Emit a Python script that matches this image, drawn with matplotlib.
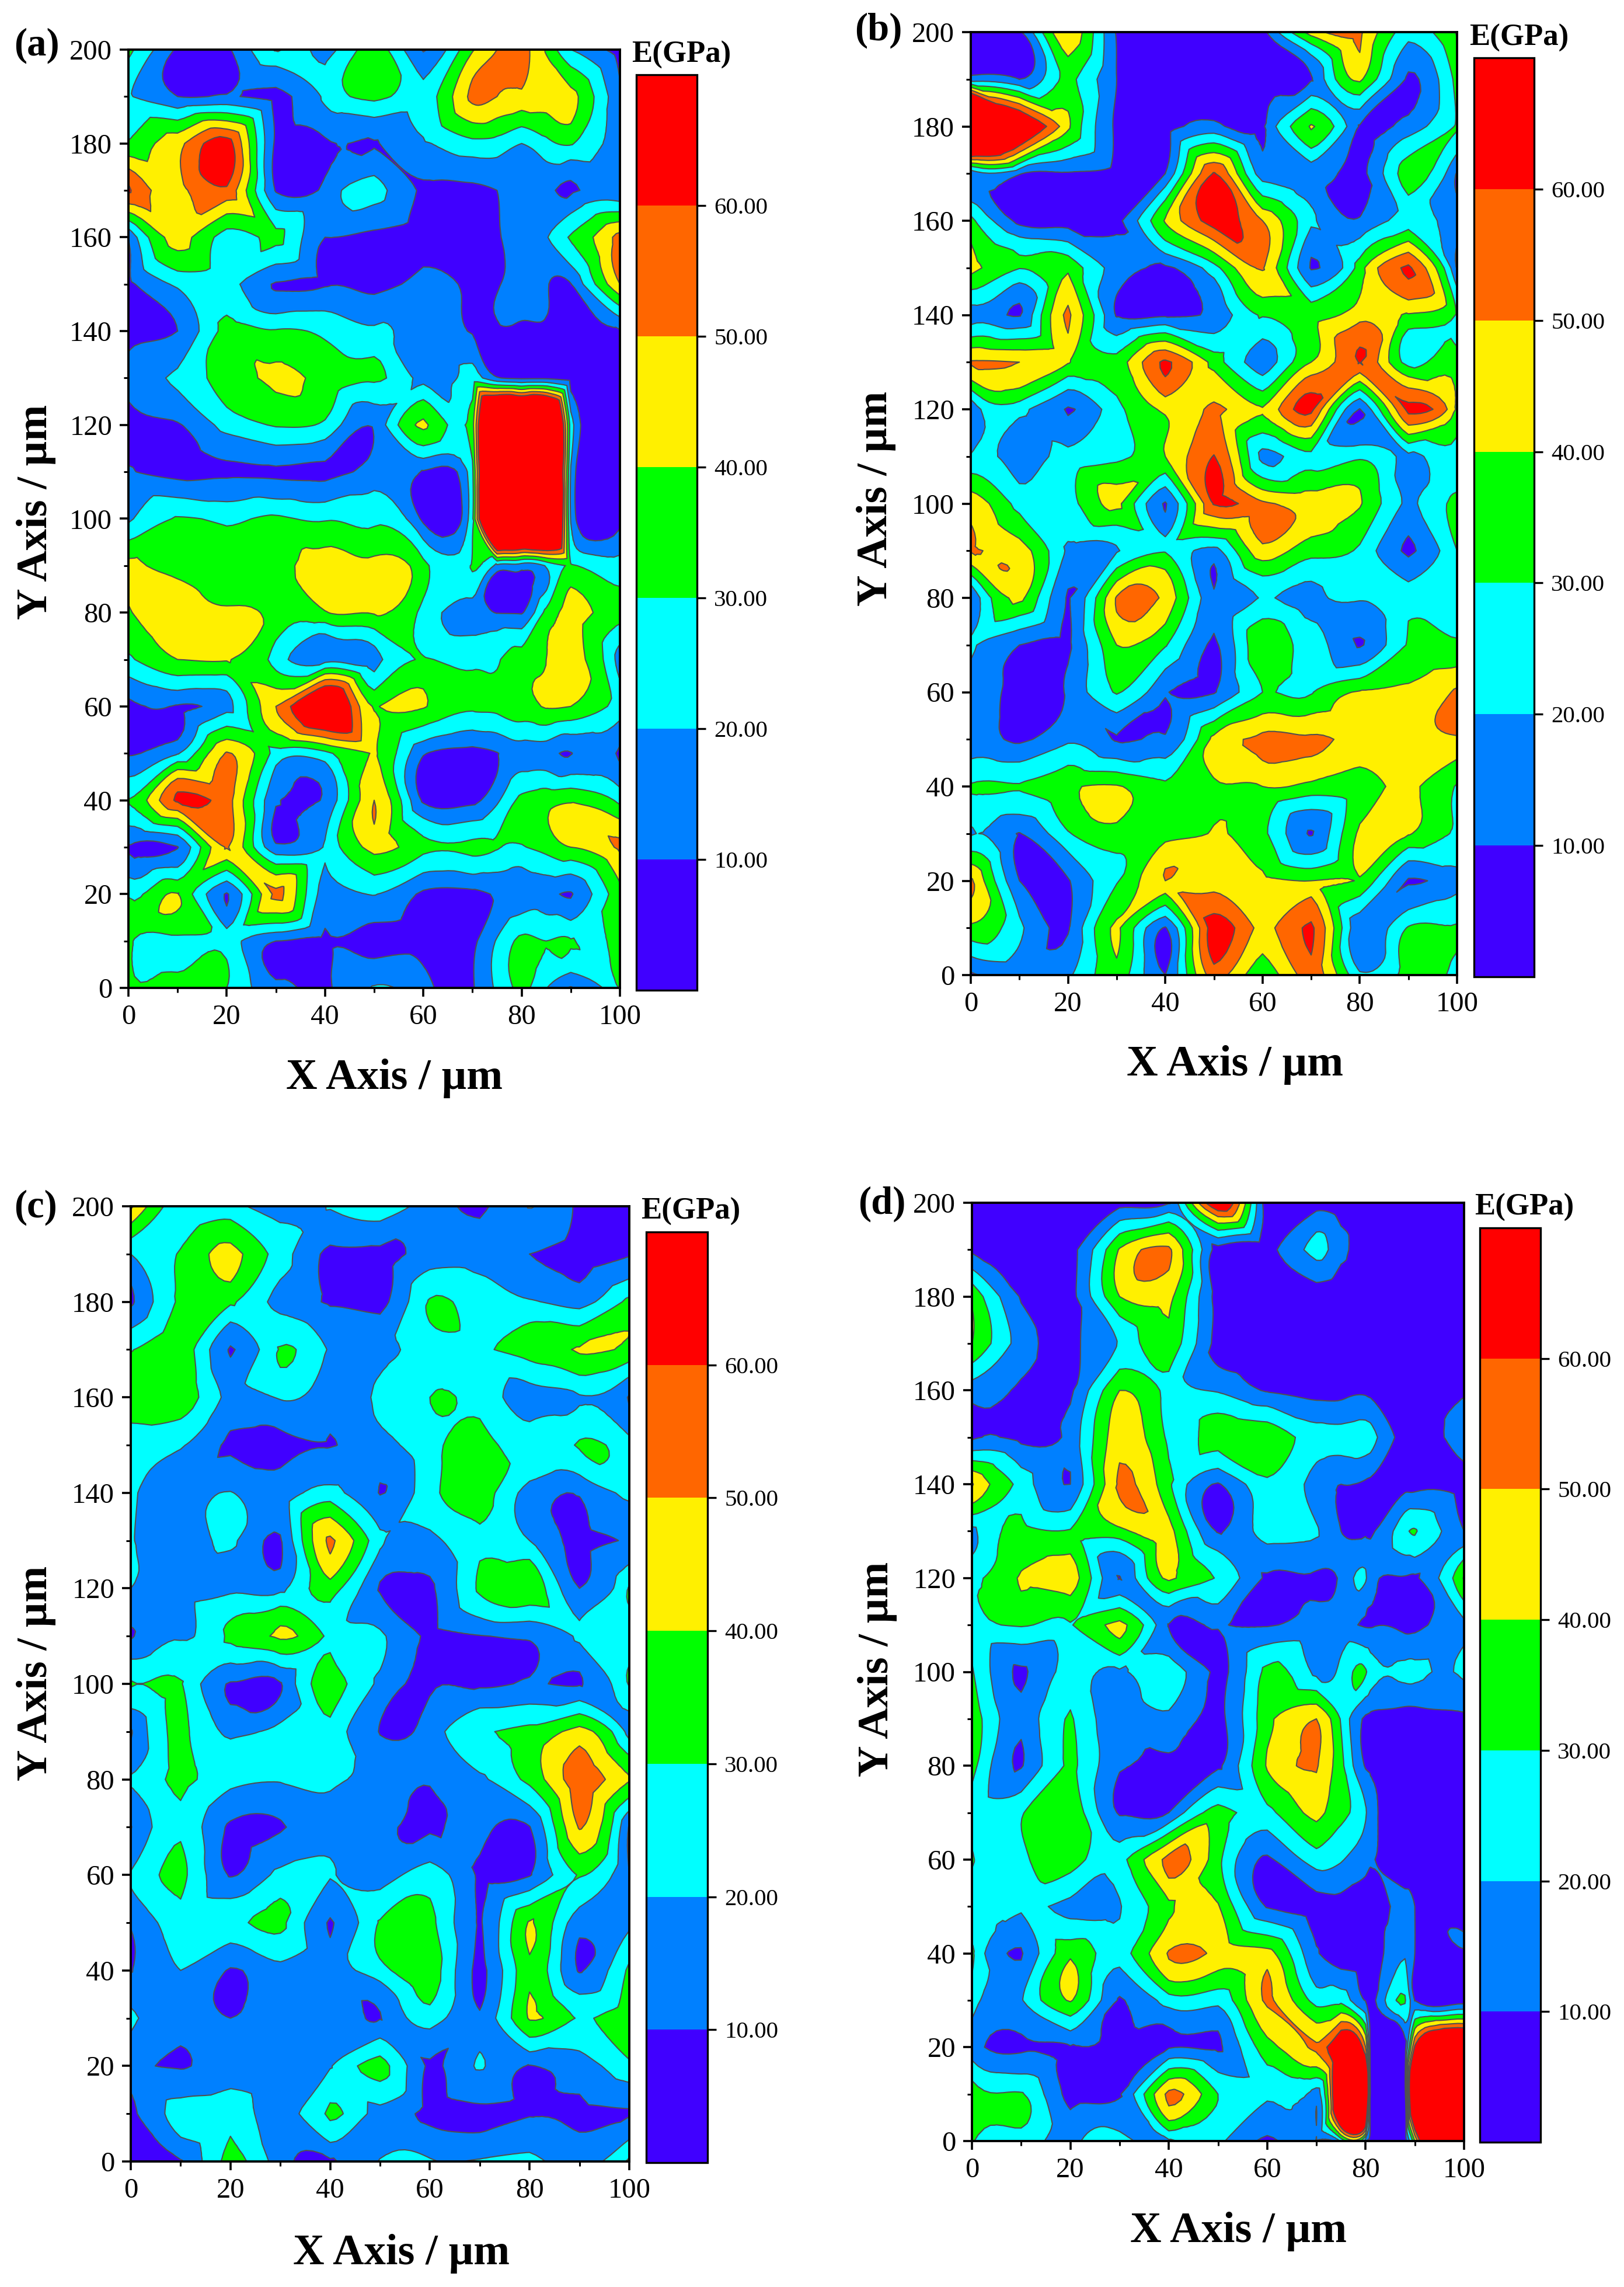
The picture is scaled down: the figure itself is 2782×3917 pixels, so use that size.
import numpy as np
import matplotlib
matplotlib.use('Agg')
import matplotlib.pyplot as plt
import matplotlib.tri as mtri
from matplotlib.colors import ListedColormap, BoundaryNorm
from matplotlib.cm import ScalarMappable
from matplotlib.ticker import MultipleLocator

plt.rcParams['font.family'] = ['Liberation Serif', 'DejaVu Serif']

W, H = 2782, 3917

# rows run from y=200 down to y=0
y_top_down = [200, 190, 180, 170, 160, 150, 140, 130, 120, 110, 100, 90, 80, 70, 60, 50, 40, 30, 20, 10, 0]
x_regular = [0, 10, 20, 30, 40, 50, 60, 70, 80, 90, 100]
x_panel_a = [0, 10, 20, 30, 40, 50, 60, 70, 75, 80, 85, 90, 100]
x_panel_d = [0, 10, 20, 30, 40, 50, 60, 70, 75, 80, 81, 88, 90, 100]

modulus_a = [
    [33, 8, 8, 31, 16, 36, 9, 39, 50, 54, 39, 20, 7],
    [21, 10, 11, 7, 22, 33, 24, 53, 50, 48, 45, 44, 12],
    [31, 47, 66, 8, 8, 9, 19, 27, 26, 20, 27, 31, 15],
    [62, 47, 58, 9, 13, 24, 8, 8, 10, 14, 13, 8, 11],
    [11, 45, 25, 33, 10, 7, 6, 7, 9, 14, 19, 31, 54],
    [8, 22, 24, 9, 9, 7, 13, 7, 9, 13, 11, 9.5, 50],
    [8, 10, 34, 31, 28, 22, 15, 9, 6, 6, 5, 5, 9],
    [12, 22, 36, 42, 37, 32, 16, 24, 11, 8, 8, 6, 4],
    [7, 9, 24, 31, 28, 11, 42, 36, 150, 150, 150, 25, 5],
    [11, 6, 8, 8, 7, 14, 9, 28, 150, 150, 150, 19, 5],
    [18, 31, 28, 32, 29, 28, 7, 28, 150, 150, 150, 19, 5],
    [43, 38, 35, 38, 46, 44, 33, 31, 17, 14, 21, 31, 24],
    [39, 46, 42, 36, 39, 41, 27, 15, 9.5, 9, 33, 44, 34],
    [28, 40, 41, 26, 15, 15, 31, 28, 29, 36, 40, 44, 15],
    [7, 9, 16, 50, 85, 39, 41, 32, 33, 38, 41, 40, 25],
    [9, 19, 51, 26, 27, 41, 11, 6, 9.5, 15, 14, 9.5, 8],
    [30.5, 62, 55, 11, 11, 50, 8, 7, 18, 33, 37, 39, 27],
    [9, 9.5, 51, 12, 21, 44, 33, 33, 31, 29, 34, 40, 52],
    [29, 40.5, 9, 53, 16, 20.5, 8, 7, 11, 13, 14, 9, 37],
    [33, 27, 26, 10, 8, 6, 5, 7, 21, 33, 30, 31, 33],
    [33, 36, 30, 13, 8, 21, 13, 9, 22, 33, 20.5, 9, 31],
]

modulus_b = [
    [6, 8, 50, 9, 5, 5, 6, 45, 52, 24, 41],
    [15, 10, 33, 10, 4, 4, 5, 9, 42, 8, 33],
    [150, 80, 42, 8, 6, 13, 8, 41, 9, 14, 31],
    [12, 11, 9, 6, 10, 61, 15, 13, 7, 36, 9],
    [33, 6, 5, 7, 41, 66, 50, 22, 11, 24, 15],
    [43, 30.5, 38, 15, 8, 26, 51, 9, 35, 62, 9],
    [15, 9, 52, 9, 8, 12, 31, 37, 46, 39, 29],
    [51, 50, 41, 34, 62, 36, 14, 40, 60.5, 26, 34],
    [11, 24, 9, 27, 42, 52, 41, 63, 9.5, 63, 38],
    [21, 14, 24, 27, 40, 60.5, 17, 27, 28, 17, 24],
    [46, 26, 27, 43, 9, 61, 52, 46, 41, 18, 33],
    [51, 46, 18, 19, 29, 16, 47, 34, 28, 8, 30],
    [9.5, 43, 9, 51, 48, 11, 21, 16, 21, 27, 26],
    [22, 10, 8, 40, 31, 8, 40, 24, 9, 31, 31],
    [15, 7, 11, 31, 11, 9, 30, 29, 41, 42, 52],
    [13, 8, 18, 9, 11, 43, 53, 52, 45, 46, 49],
    [31, 31, 38, 41, 32, 38, 40, 37, 37, 42, 29],
    [19, 9.5, 29, 36, 36, 41, 32, 9, 42, 41, 29],
    [52, 10, 9, 29, 50, 44, 42, 40, 39, 9, 17],
    [38, 22, 9, 42, 9, 66, 47, 62, 11, 31, 31],
    [8, 14, 18, 36, 10, 55, 33, 56, 22, 34, 28],
]

modulus_c = [
    [52, 22, 23, 15, 21, 27, 15, 8, 20.5, 8, 7],
    [20, 31, 44, 25, 8, 7, 14, 15, 10, 6, 9],
    [8, 32, 32, 17, 9, 7, 31, 26, 21, 16, 33],
    [29.5, 37, 9, 31, 19, 18, 26, 28, 35, 41, 38],
    [35, 37, 17, 21, 15, 21, 30, 27, 15, 19, 9],
    [25, 21, 8, 7, 9.5, 17, 27, 34, 27, 31, 24],
    [22, 14, 20.5, 14, 24, 9.5, 27, 36, 16, 11, 23],
    [21, 14, 22, 9, 52, 22, 17, 28, 20, 7, 11],
    [20, 18, 18, 17, 35, 9, 8, 32, 39, 10, 31],
    [9, 19, 33, 42, 27, 22, 8, 9.5, 11, 22, 25],
    [31, 31, 9, 9, 36, 17, 9, 8, 11, 9, 31],
    [9, 33, 18, 24, 27, 9.5, 14, 29, 33, 44, 16],
    [21, 33, 23, 21, 22, 17, 11, 18, 33, 57, 41],
    [9.5, 28, 8, 9, 15, 12, 8, 12, 9.5, 51, 9],
    [21, 33, 9, 23, 21, 15, 25, 8, 9, 31, 10],
    [11, 26, 27, 33, 9, 31, 33, 9, 41, 14, 18],
    [9.5, 20, 9, 17, 15, 26, 37, 7, 38, 9, 32],
    [22, 15, 10, 14, 15, 9.5, 25, 12, 41, 29, 35],
    [13, 9, 16, 15, 19, 34, 8, 21, 9.5, 15, 28],
    [8, 25, 26, 15, 32, 16, 7, 7, 9, 8, 9],
    [9, 9, 34, 14, 8, 21, 21, 21, 22, 15, 32],
]

modulus_d = [
    [6, 5, 5, 6, 9, 75, 3, 5, 4, 4, 4, 4, 4, 5],
    [8, 5, 6, 41, 52, 5, 5, 24, 13, 6, 6, 5, 4, 4],
    [38, 9, 6, 40, 43, 6, 4, 4, 3, 3, 3, 3, 3, 4],
    [40, 15, 7, 21, 37, 6, 4, 3, 3, 3, 3, 3, 3, 4],
    [14, 8, 8, 40, 26, 19, 9, 6, 6, 8, 7, 6, 5, 9],
    [8, 7, 13, 47, 28, 36, 38, 25, 24, 25, 24, 5, 5, 15],
    [51, 26, 10, 52, 32, 9, 28, 15, 10, 8, 7, 6, 6, 6],
    [17, 33, 31, 37, 44, 9, 24, 21, 10, 8, 8, 28, 31, 10],
    [28, 41, 45, 9.5, 42, 29, 8, 8, 12, 21, 15, 9, 8, 41],
    [27, 31, 29, 43, 9.5, 11, 9, 14, 14, 9, 9, 7, 7, 18],
    [31, 8, 24, 18, 27, 7, 33, 17, 23, 31, 26, 23, 23, 22],
    [36, 13, 31, 11, 17, 7, 37, 50, 29, 8, 7, 5, 5, 8],
    [34, 9, 32, 11, 7, 8, 41, 51, 33, 9, 8, 4, 4, 4],
    [26, 29, 38, 9, 10, 34, 27, 43, 33, 21, 15, 4, 4, 3],
    [31, 27, 36, 25, 54, 33, 8, 25, 21, 13, 11, 4, 4, 3],
    [22, 22, 17, 19, 38, 41, 9, 5, 6, 5, 5, 13, 10, 4],
    [32, 9, 38, 24, 51, 47, 44, 11, 4, 4, 4, 18, 10, 9],
    [25, 19, 41, 9, 25, 23, 52, 26, 27, 9.5, 6, 31, 9.5, 4],
    [15, 8, 9, 8, 9, 8, 36, 52, 80, 50, 4, 5, 62, 110],
    [36, 31, 7, 9, 53, 30, 22, 14, 120, 120, 3, 5, 115, 120],
    [31, 26, 16, 25, 18, 22, 8, 9.5, 22, 13, 5, 4, 40, 120],
]

band_colors = ['#4000FF', '#0080FF', '#00FFFF', '#00FF00', '#FFF000', '#FF6600', '#FF0000']
bar_levels = [0, 10, 20, 30, 40, 50, 60, 70]
fill_levels = [-1e5, 10, 20, 30, 40, 50, 60, 1e5]
line_levels = [10, 20, 30, 40, 50, 60]
bar_ticks = [10, 20, 30, 40, 50, 60]


def px_axes(fig, left, right, top, bottom):
    return fig.add_axes([left / W, 1 - bottom / H, (right - left) / W, (bottom - top) / H])


def draw_panel(fig, x, z, box, bar_box, letter, letter_xy, xlabel_xy, ylabel_xy, bar_title_xy):
    ax = px_axes(fig, *box)
    Y = np.array(y_top_down)[::-1]
    X, YY = np.meshgrid(np.array(x, dtype=float), Y.astype(float))
    Z = np.array(z, dtype=float)[::-1]
    # the contour lines in the figure are rounded, so refine the triangulation when drawing.
    # cubic alone overshoots and blows up the small peaks, so average it with the linear one
    tri = mtri.Triangulation(X.ravel(), YY.ravel())
    refiner = mtri.UniformTriRefiner(tri)
    fine_tri, cubic_z = refiner.refine_field(Z.ravel(), subdiv=3)
    _, linear_z = refiner.refine_field(Z.ravel(), mtri.LinearTriInterpolator(tri, Z.ravel()), subdiv=3)
    fine_z = 0.5 * (cubic_z + linear_z)
    ax.tricontourf(fine_tri, fine_z, levels=fill_levels, colors=band_colors)
    ax.tricontour(fine_tri, fine_z, levels=line_levels, colors='#505050', linewidths=1.5)
    ax.set_xlim(0, 100)
    ax.set_ylim(0, 200)
    ax.set_xticks([0, 20, 40, 60, 80, 100])
    ax.set_yticks([0, 20, 40, 60, 80, 100, 120, 140, 160, 180, 200])
    ax.xaxis.set_minor_locator(MultipleLocator(10))
    ax.yaxis.set_minor_locator(MultipleLocator(10))
    ax.tick_params(which='major', length=11, width=2.6, labelsize=35, pad=9)
    ax.tick_params(which='minor', length=6, width=2.2)
    for s in ax.spines.values():
        s.set_linewidth(2.8)
    ax.set_axisbelow(False)

    cax = px_axes(fig, *bar_box)
    sm = ScalarMappable(norm=BoundaryNorm(bar_levels, 7), cmap=ListedColormap(band_colors))
    cb = fig.colorbar(sm, cax=cax, ticks=bar_ticks, spacing='proportional')
    cb.ax.set_yticklabels(['%.2f' % t for t in bar_ticks])
    cb.ax.minorticks_off()
    cb.ax.tick_params(length=11, width=2.4, labelsize=29.5, pad=10)
    cb.outline.set_linewidth(2.4)

    fig.text(letter_xy[0] / W, 1 - letter_xy[1] / H, letter, fontsize=48, fontweight='bold',
             ha='left', va='center')
    fig.text(xlabel_xy[0] / W, 1 - xlabel_xy[1] / H, 'X Axis / µm', fontsize=53.5, fontweight='bold',
             ha='center', va='center')
    fig.text(ylabel_xy[0] / W, 1 - ylabel_xy[1] / H, 'Y Axis / µm', fontsize=53.5, fontweight='bold',
             ha='center', va='center', rotation=90)
    fig.text(bar_title_xy[0] / W, 1 - bar_title_xy[1] / H, 'E(GPa)', fontsize=38, fontweight='bold',
             ha='left', va='center')


def main():
    fig = plt.figure(figsize=(W / 100, H / 100), dpi=100, facecolor='white')

    draw_panel(fig, x_panel_a, modulus_a, (220, 1062, 85, 1692), (1090, 1194, 128, 1696),
               '(a)', (24, 78), (676, 1847), (62, 877), (1082, 94))
    draw_panel(fig, x_regular, modulus_b, (1663, 2496, 55, 1670), (2525, 2628, 99, 1673),
               '(b)', (1464, 52), (2116, 1824), (1501, 854), (2517, 65))
    draw_panel(fig, x_regular, modulus_c, (224, 1078, 2066, 3702), (1107, 1212, 2110, 3704),
               '(c)', (24, 2068), (687, 3860), (62, 2866), (1098, 2075))
    draw_panel(fig, x_panel_d, modulus_d, (1665, 2508, 2060, 3667), (2535, 2639, 2103, 3669),
               '(d)', (1470, 2062), (2122, 3822), (1503, 2859), (2526, 2068))

    fig.savefig('out.png', dpi=100, facecolor='white')


if __name__ == '__main__':
    main()
